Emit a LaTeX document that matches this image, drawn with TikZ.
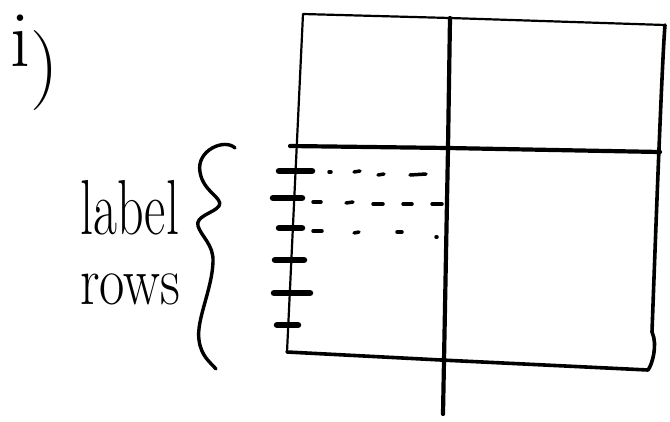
\documentclass[tikz,border=0pt]{standalone}
\begin{document}
\begin{tikzpicture}[x=1pt,y=-1pt,line cap=round,line join=round,
  thinline/.style={line width=2.2pt},
  thickline/.style={line width=3.6pt},
  tickmark/.style={line width=6.5pt},
  dashmark/.style={line width=3.5pt},
  handtext/.style={inner sep=0pt,anchor=base west}]
\useasboundingbox (0,0) rectangle (670,421);
% corners and divider points
\coordinate (tl) at (303,14);
\coordinate (tm) at (450,18);
\coordinate (tr) at (665,25);
\coordinate (ml) at (290,146);
\coordinate (mm) at (448,148);
\coordinate (mr) at (660,152);
\coordinate (bl) at (287,352);
\coordinate (bm) at (441,360);
\coordinate (br) at (648,370);
\coordinate (vb) at (443,414);
% outer box
\draw[thinline] (bl) -- (tl) -- (tm) -- (tr);
\draw[thickline] (tr) .. controls (662,60) and (655,250) .. (652,332) .. controls (658,345) and (652,365) .. (br);
\draw[thickline] (bl) -- (bm) -- (br);
% dividers
\draw[line width=4.2pt] (tm) -- (mm) -- (vb);
\draw[line width=4.2pt] (ml) -- (mm) -- (mr);
% ticks
\foreach \y/\a/\b in {171/279/312, 198/273/302, 228/279/302, 260/275/304, 293/274/310, 325/277/298}
  \draw[tickmark] (\a,\y) -- (\b,\y);
% dashed rows
\draw[dashmark] (329,172) -- (331,172);
\draw[dashmark] (354,172) -- (360,171);
\draw[dashmark] (378,175) -- (384,174);
\draw[dashmark] (410,175) -- (426,174);
\draw[dashmark] (313,202) -- (321,202);
\draw[dashmark] (346,203) -- (353,202);
\draw[dashmark] (373,204) -- (383,204);
\draw[dashmark] (403,204) -- (412,204);
\draw[dashmark] (432,204) -- (442,204);
\draw[dashmark] (313,231) -- (322,231);
\draw[dashmark] (354,233) -- (359,232);
\draw[dashmark] (397,232) -- (402,232);
\draw[dashmark] (436,237) -- (437,237);
% brace
\draw[line width=3.4pt] (235,148) .. controls (225,138) and (196,150) .. (200,172)
  .. controls (203,192) and (224,198) .. (219,206)
  .. controls (214,213) and (195,216) .. (198,226)
  .. controls (201,236) and (214,245) .. (213,262)
  .. controls (212,290) and (196,320) .. (199,340)
  .. controls (201,356) and (210,362) .. (216,369);
% texts
\node[handtext,font=\fontsize{80}{80}\selectfont] (num) at (10,66) {i\raisebox{-0.3em}{)}};
\node[handtext,font=\fontsize{52}{52}\selectfont,yscale=1.5,transform shape] (lab) at (80,234) {label};
\node[handtext,font=\fontsize{58}{58}\selectfont,xscale=0.95,yscale=1.2,transform shape] (rows) at (80,304) {rows};
\end{tikzpicture}
\end{document}
